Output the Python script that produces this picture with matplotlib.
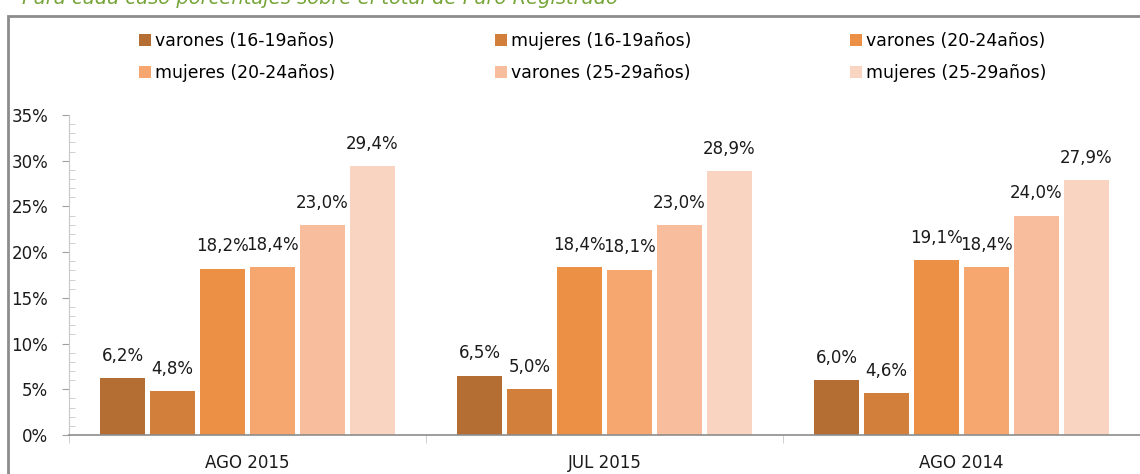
import matplotlib.pyplot as plt
from matplotlib.patches import Rectangle
from matplotlib.ticker import MultipleLocator, FixedLocator
import numpy as np

plt.rcParams['font.family'] = ['DejaVu Sans']

# datos
periodos = ["AGO 2015", "JUL 2015", "AGO 2014"]
series = ["varones (16-19años)", "mujeres (16-19años)", "varones (20-24años)",
          "mujeres (20-24años)", "varones (25-29años)", "mujeres (25-29años)"]
v_16_19 = [6.2, 6.5, 6.0]
m_16_19 = [4.8, 5.0, 4.6]
v_20_24 = [18.2, 18.4, 19.1]
m_20_24 = [18.4, 18.1, 18.4]
v_25_29 = [23.0, 23.0, 24.0]
m_25_29 = [29.4, 28.9, 27.9]
valores = [v_16_19, m_16_19, v_20_24, m_20_24, v_25_29, m_25_29]
colores = ["#B46E34", "#D27F3C", "#EB9045", "#F6A76F", "#F8BD9D", "#F9D4C1"]

fig = plt.figure(figsize=(11.4, 4.74), dpi=100)
ax = fig.add_axes([69 / 1140, 1 - 435 / 474, 1 - 69 / 1140, 320 / 474])

# marco del grafico
fig.patches.append(Rectangle((8 / 1140, -0.2), 1.2, 0.2 + 1 - 16 / 474,
                             transform=fig.transFigure, fill=False,
                             edgecolor="#8C8C8C", linewidth=2))
fig.text(22 / 1140, 1 - 4 / 474, "Para cada caso porcentajes sobre el total de Paro Registrado",
         color="#77A53A", style="italic", fontsize=14, va="baseline")

x = np.arange(len(periodos))
paso = 50 / 357
ancho = 45 / 357
barras = []
for i, (vals, col) in enumerate(zip(valores, colores)):
    pos = x + (i - 2.5) * paso
    b = ax.bar(pos, vals, width=ancho, color=col, label=series[i])
    barras.append(b)
    for p, v in zip(pos, vals):
        ax.annotate(f"{v:.1f}%".replace(".", ","), (p, v), xytext=(0, 9.5),
                    textcoords="offset points", ha="center", va="bottom",
                    fontsize=12, color="#1a1a1a")

ax.set_xlim(-0.5, 2.5)
ax.set_ylim(0, 35)
ax.yaxis.set_major_locator(MultipleLocator(5))
ax.yaxis.set_minor_locator(MultipleLocator(1))
ax.set_yticklabels([f"{int(t)}%" for t in ax.get_yticks()])
ax.tick_params(axis="y", which="major", direction="out", length=5, color="#A0A0A0",
               labelsize=12, pad=10, labelcolor="#1a1a1a")
ax.tick_params(axis="y", which="minor", direction="in", length=4, color="#C8C8C8")
ax.set_xticks(x)
ax.set_xticklabels(periodos)
ax.xaxis.set_minor_locator(FixedLocator([-0.5, 0.5, 1.5, 2.5]))
ax.tick_params(axis="x", which="major", length=0, labelsize=12, pad=14, labelcolor="#1a1a1a")
ax.tick_params(axis="x", which="minor", direction="out", length=6, color="#C8C8C8")

for s in ["top", "right"]:
    ax.spines[s].set_visible(False)
ax.spines["left"].set_color("#C8C8C8")
ax.spines["bottom"].set_color("#8C8C8C")
ax.spines["bottom"].set_linewidth(1.2)

# leyenda: tres columnas, dos filas (orden por filas)
columnas_x = [139, 495, 850]
for c, xc in enumerate(columnas_x):
    idx = [c, c + 3]
    leg = fig.legend([barras[i] for i in idx], [series[i] for i in idx],
                     loc="upper left", bbox_to_anchor=(xc / 1140, 1 - 32 / 474),
                     frameon=False, fontsize=12.4, handlelength=0.7, handleheight=0.7,
                     handletextpad=0.25, labelspacing=0.8,
                     borderaxespad=0, borderpad=0)

fig.savefig("out.png", dpi=100)
